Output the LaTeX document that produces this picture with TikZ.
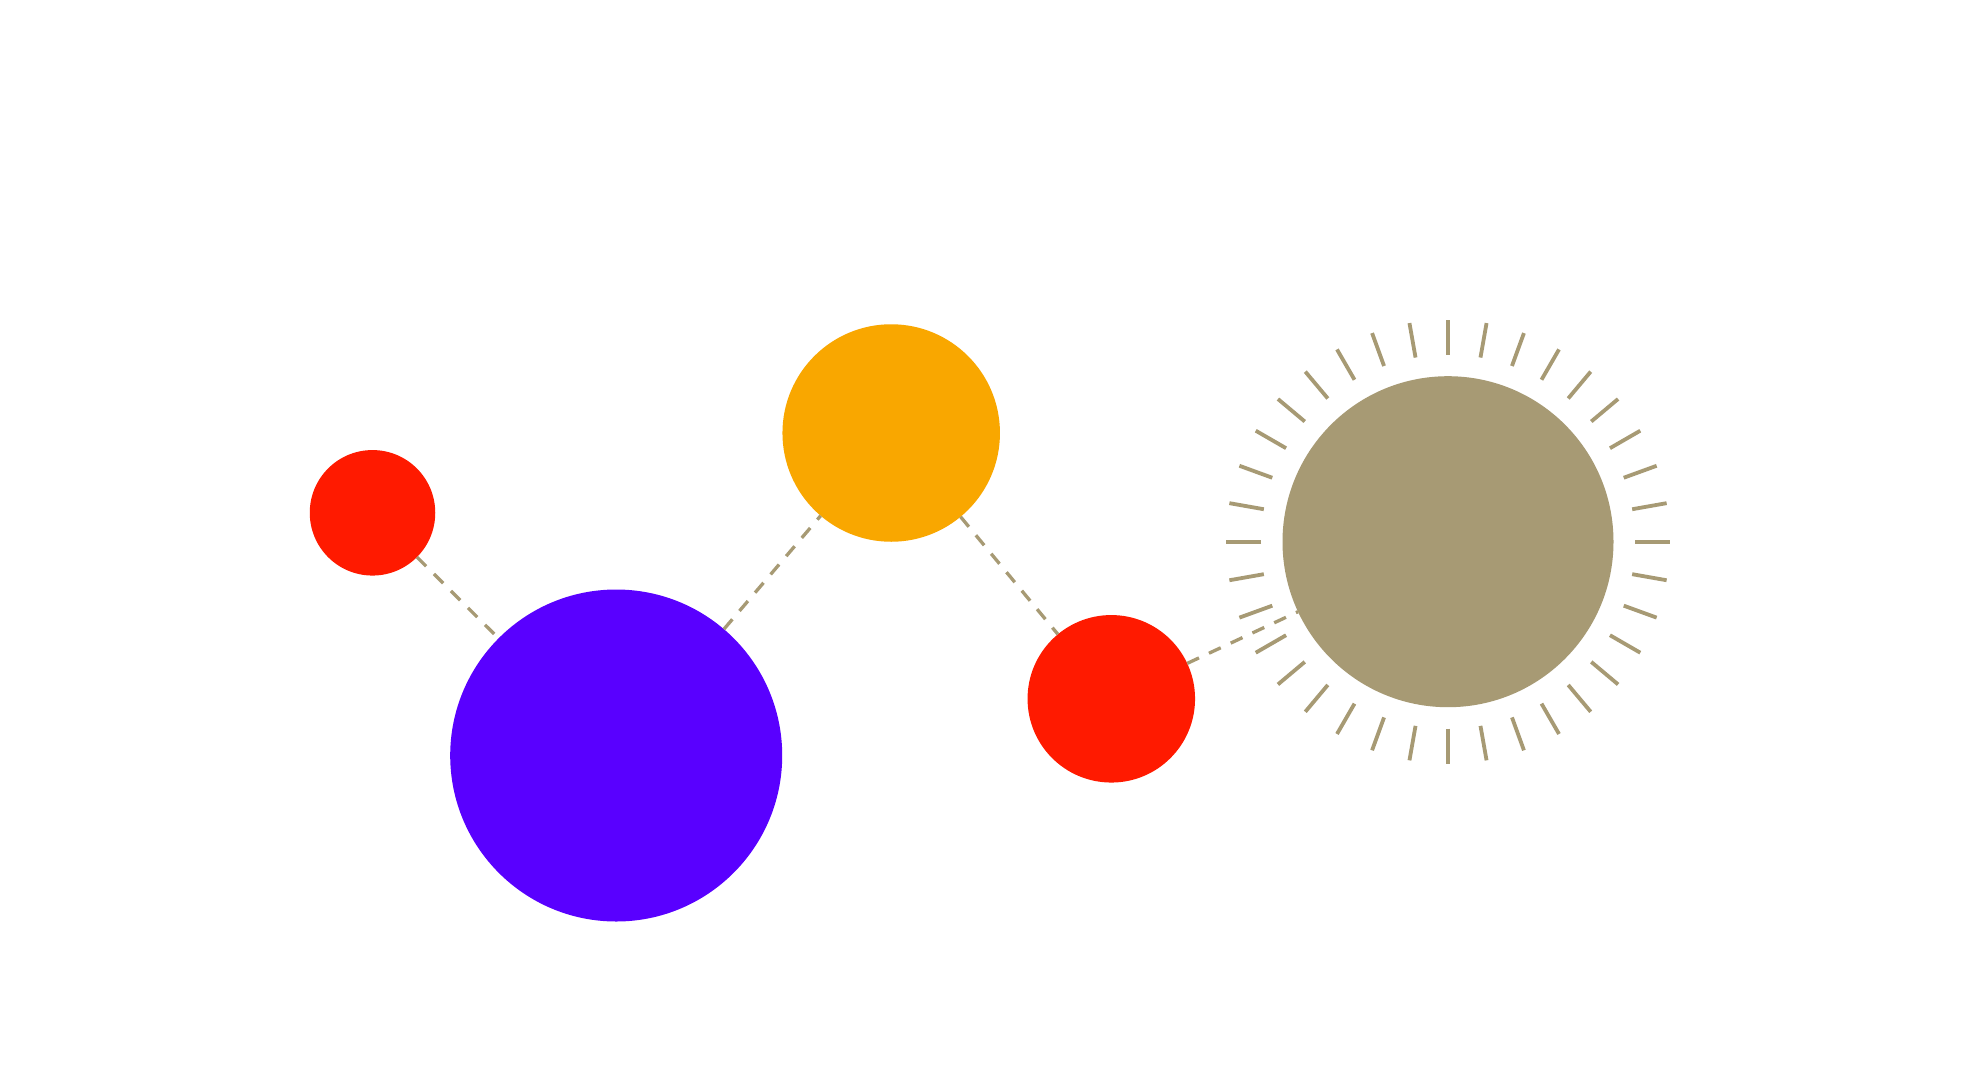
\documentclass[tikz,border=0pt]{standalone}
\usetikzlibrary{calc}
\definecolor{cred}{HTML}{FF1A00}
\definecolor{cpurple}{HTML}{5900FF}
\definecolor{corange}{HTML}{F9A700}
\definecolor{ctan}{HTML}{A79A74}
\tikzset{
  ball/.style={circle, inner sep=0pt, outer sep=0pt, draw=none},
  link/.style={draw=ctan, line width=3.3bp, dash pattern=on 13bp off 11bp},
  ray/.style={draw=ctan, line width=3.8bp}
}
\begin{document}
\begin{tikzpicture}[x=1bp,y=-1bp]
\useasboundingbox (0,0) rectangle (1980,1080);
\fill[white] (0,0) rectangle (1980,1080);
\node[ball, fill=cred, minimum size=125.5bp] (r1) at (372.5,512.8) {};
\node[ball, fill=cpurple, minimum size=332bp] (pu) at (616.2,755.5) {};
\node[ball, fill=corange, minimum size=217.5bp] (or) at (891.2,433) {};
\node[ball, fill=cred, minimum size=167.5bp] (r2) at (1111.3,698.8) {};
\node[ball, fill=ctan, minimum size=331bp] (tn) at (1448,541.7) {};
\foreach \a in {0,10,...,350}{
  \draw[ray] ([shift={(\a:187)}]tn.center) -- ([shift={(\a:222)}]tn.center);
}
\draw[link] (r1) -- (pu);
\draw[link] (pu) -- (or);
\draw[link] (or) -- (r2);
\draw[link] (r2) -- (tn);
\end{tikzpicture}
\end{document}
